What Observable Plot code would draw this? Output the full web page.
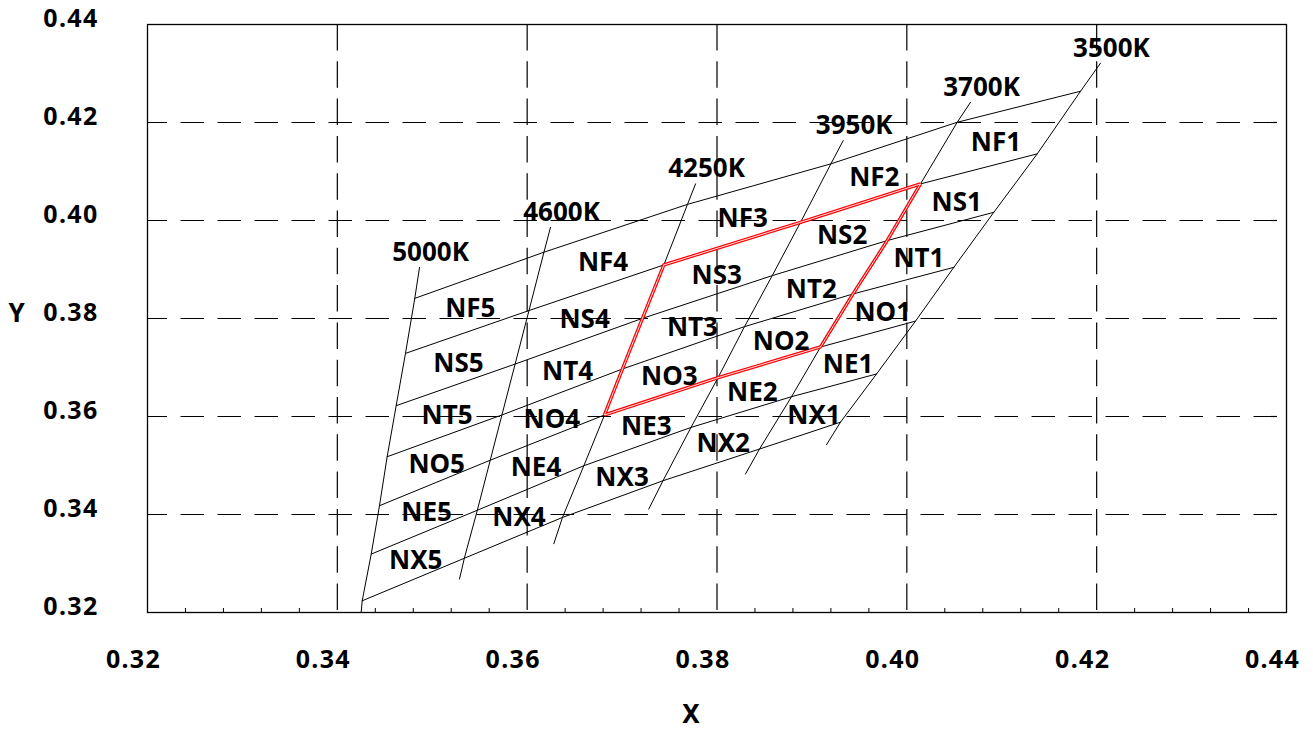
<!DOCTYPE html>
<html>
<head>
<meta charset="utf-8">
<script src="https://cdn.jsdelivr.net/npm/d3@7"></script>
<script src="https://cdn.jsdelivr.net/npm/@observablehq/plot@0.6"></script>
<style>
  html, body { margin: 0; padding: 0; background: #fff; }
  #chart svg { display: block; }
  #chart g[aria-label="x-axis tick label"] text,
  #chart g[aria-label="y-axis tick label"] text { letter-spacing: 1.3px; }
</style>
</head>
<body>
<div id="chart"></div>
<script>
// ---- data (CIE x, y) ----
const cctNames = ["5000K", "4600K", "4250K", "3950K", "3700K", "3500K"];
const rowCodes = ["F", "S", "T", "O", "E", "X"];
const colNumbers = [5, 4, 3, 2, 1];

// bin-boundary vertices on each CCT line, boundaries 0..6 from top to bottom
const x5000K = [0.34816, 0.34718, 0.34620, 0.34525, 0.34444, 0.34357, 0.34262];
const y5000K = [0.38411, 0.37288, 0.36221, 0.35179, 0.34179, 0.33192, 0.32239];
const x4600K = [0.36177, 0.36019, 0.35873, 0.35734, 0.35611, 0.35475, 0.35338];
const y4600K = [0.39353, 0.38162, 0.37070, 0.36031, 0.35108, 0.34087, 0.33107];
const x4250K = [0.37689, 0.37440, 0.37215, 0.37004, 0.36815, 0.36597, 0.36372];
const y4250K = [0.40329, 0.39093, 0.38003, 0.36970, 0.36031, 0.34995, 0.33940];
const x3950K = [0.39200, 0.38880, 0.38582, 0.38290, 0.38011, 0.37726, 0.37431];
const y3950K = [0.41156, 0.39963, 0.38875, 0.37834, 0.36792, 0.35777, 0.34689];
const x3700K = [0.40531, 0.40144, 0.39793, 0.39433, 0.39091, 0.38785, 0.38448];
const y3700K = [0.42005, 0.40747, 0.39590, 0.38501, 0.37419, 0.36404, 0.35336];
const x3500K = [0.41830, 0.41374, 0.40916, 0.40495, 0.40091, 0.39681, 0.39301];
const y3500K = [0.42638, 0.41360, 0.40167, 0.39044, 0.37946, 0.36868, 0.35884];

// ends of each CCT line (extensions beyond the bins)
const cctTopX    = [0.34866, 0.36246, 0.37774, 0.39330, 0.40671, 0.42040];
const cctTopY    = [0.39044, 0.39861, 0.40747, 0.41632, 0.42413, 0.43210];
const cctBottomX = [0.34251, 0.35287, 0.36281, 0.37281, 0.38300, 0.39154];
const cctBottomY = [0.32000, 0.32682, 0.33403, 0.34111, 0.34826, 0.35424];

// highlighted (red) region: CCT lines 4250K..3700K, boundaries 1..4
const highlightCct = ["4250K", "3700K"];
const highlightRows = [1, 4];

const majorTicks = [0.32, 0.34, 0.36, 0.38, 0.40, 0.42, 0.44];
const gridTicks = [0.34, 0.36, 0.38, 0.40, 0.42];
const minorTicks = d3.range(1, 30).filter(i => i % 5 !== 0).map(i => 0.32 + i * 0.004);

// ---- build tables ----
const VX = [x5000K, x4600K, x4250K, x3950K, x3700K, x3500K];
const VY = [y5000K, y4600K, y4250K, y3950K, y3700K, y3500K];

const binPts = [];
for (let r = 0; r < 7; r++) for (let c = 0; c < 6; c++) binPts.push({row: r, x: VX[c][r], y: VY[c][r]});

const cctPts = [];
cctNames.forEach((name, c) => {
  cctPts.push({cct: name, x: cctTopX[c], y: cctTopY[c]});
  for (let r = 0; r < 7; r++) cctPts.push({cct: name, x: VX[c][r], y: VY[c][r]});
  cctPts.push({cct: name, x: cctBottomX[c], y: cctBottomY[c]});
});

const cctLabelData = cctNames.map((name, c) => ({name, x: cctTopX[c], y: cctTopY[c]}));

const cells = [];
for (let c = 0; c < 5; c++) for (let r = 0; r < 6; r++) {
  cells.push({
    label: "N" + rowCodes[r] + colNumbers[c],
    x: (VX[c][r] + VX[c][r + 1] + VX[c + 1][r] + VX[c + 1][r + 1]) / 4,
    y: (VY[c][r] + VY[c][r + 1] + VY[c + 1][r] + VY[c + 1][r + 1]) / 4
  });
}

const c0 = cctNames.indexOf(highlightCct[0]), c1 = cctNames.indexOf(highlightCct[1]);
const [rTop, rBot] = highlightRows;
const redPts = [];
for (let c = c0; c <= c1; c++) redPts.push({x: VX[c][rTop], y: VY[c][rTop]});
for (let r = rTop + 1; r <= rBot; r++) redPts.push({x: VX[c1][r], y: VY[c1][r]});
for (let c = c1 - 1; c >= c0; c--) redPts.push({x: VX[c][rBot], y: VY[c][rBot]});
for (let r = rBot - 1; r >= rTop; r--) redPts.push({x: VX[c0][r], y: VY[c0][r]});

const fmt = d3.format(".2f");

const chart = Plot.plot({
  width: 1313,
  height: 731,
  marginLeft: 147,
  marginRight: 27,
  marginTop: 24,
  marginBottom: 119,
  x: {domain: [0.32, 0.44]},
  y: {domain: [0.32, 0.44]},
  style: {fontFamily: "'Noto Sans', 'Open Sans', sans-serif", fontSize: "25px", fontWeight: "bold", color: "#000", background: "#fff"},
  marks: [
    Plot.ruleY(gridTicks, {y: d => d, strokeDasharray: "23.5,13.5", strokeDashoffset: 3.5, strokeWidth: 1.2}),
    Plot.ruleX(gridTicks, {x: d => d, strokeDasharray: "26.5,10.8", strokeWidth: 1.2}),
    Plot.line(binPts, {x: "x", y: "y", z: "row", stroke: "#000", strokeWidth: 1}),
    Plot.line(cctPts, {x: "x", y: "y", z: "cct", stroke: "#000", strokeWidth: 1}),
    Plot.line(redPts, {x: "x", y: "y", stroke: "#ff0000", strokeWidth: 3.4, strokeLinejoin: "miter"}),
    Plot.line(redPts, {x: "x", y: "y", stroke: "#ffffff", strokeWidth: 0.9, strokeLinejoin: "miter"}),
    Plot.text(cctLabelData, {x: "x", y: "y", text: "name", dx: 11, dy: -15, fill: "#000", fontSize: 26}),
    Plot.text(cells, {x: "x", y: "y", text: "label", dx: -3, dy: 5, fill: "#000", fontSize: 26}),
    Plot.frame({stroke: "#000", strokeWidth: 1.3}),
    Plot.axisX(minorTicks, {tickSize: -4, tickFormat: () => "", label: null}),
    Plot.axisX(majorTicks, {tickSize: 0, tickPadding: 38, dx: -14, tickFormat: fmt, label: null}),
    Plot.axisY(majorTicks, {tickSize: 0, tickPadding: 49, dy: -6, tickFormat: fmt, label: null}),
    Plot.text(["X"], {text: d => d, frameAnchor: "bottom", dx: -26, dy: 110, fill: "#000", fontSize: 26}),
    Plot.text(["Y"], {text: d => d, frameAnchor: "left", dx: -139, dy: -5, fill: "#000", fontSize: 26})
  ]
});
document.getElementById("chart").appendChild(chart);
</script>
</body>
</html>
